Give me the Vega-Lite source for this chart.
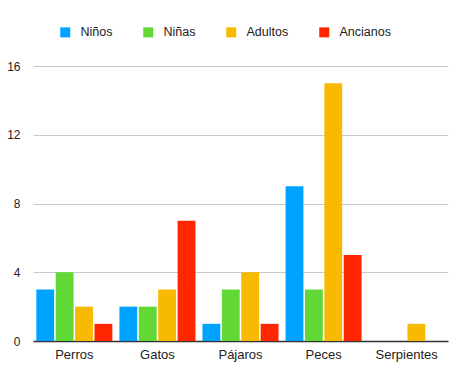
{
  "$schema": "https://vega.github.io/schema/vega-lite/v6.json",
  "width": 415,
  "height": 275,
  "autosize": {"type": "none"},
  "padding": {"left": 33, "top": 66, "right": 26, "bottom": 43},
  "background": "white",
  "config": {
    "font": "Liberation Sans",
    "view": {"stroke": null}
  },
  "data": {
    "values": [
      {"animal": "Perros", "grupo": "Niños", "valor": 3},
      {"animal": "Perros", "grupo": "Niñas", "valor": 4},
      {"animal": "Perros", "grupo": "Adultos", "valor": 2},
      {"animal": "Perros", "grupo": "Ancianos", "valor": 1},
      {"animal": "Gatos", "grupo": "Niños", "valor": 2},
      {"animal": "Gatos", "grupo": "Niñas", "valor": 2},
      {"animal": "Gatos", "grupo": "Adultos", "valor": 3},
      {"animal": "Gatos", "grupo": "Ancianos", "valor": 7},
      {"animal": "Pájaros", "grupo": "Niños", "valor": 1},
      {"animal": "Pájaros", "grupo": "Niñas", "valor": 3},
      {"animal": "Pájaros", "grupo": "Adultos", "valor": 4},
      {"animal": "Pájaros", "grupo": "Ancianos", "valor": 1},
      {"animal": "Peces", "grupo": "Niños", "valor": 9},
      {"animal": "Peces", "grupo": "Niñas", "valor": 3},
      {"animal": "Peces", "grupo": "Adultos", "valor": 15},
      {"animal": "Peces", "grupo": "Ancianos", "valor": 5},
      {"animal": "Serpientes", "grupo": "Niños", "valor": 0},
      {"animal": "Serpientes", "grupo": "Niñas", "valor": 0},
      {"animal": "Serpientes", "grupo": "Adultos", "valor": 1},
      {"animal": "Serpientes", "grupo": "Ancianos", "valor": 0}
    ]
  },
  "mark": {"type": "bar"},
  "encoding": {
    "x": {
      "field": "animal",
      "type": "nominal",
      "sort": ["Perros", "Gatos", "Pájaros", "Peces", "Serpientes"],
      "scale": {"paddingInner": 0.085, "paddingOuter": 0.04},
      "axis": {
        "title": null,
        "labelAngle": 0,
        "labelFontSize": 13,
        "labelColor": "#222",
        "labelPadding": 7,
        "ticks": false,
        "domainColor": "#333",
        "domainWidth": 1.5,
        "grid": false
      }
    },
    "xOffset": {
      "field": "grupo",
      "type": "nominal",
      "sort": ["Niños", "Niñas", "Adultos", "Ancianos"],
      "scale": {"paddingInner": 0.08}
    },
    "y": {
      "field": "valor",
      "type": "quantitative",
      "scale": {"domain": [0, 16], "nice": false},
      "axis": {
        "title": null,
        "values": [0, 4, 8, 12, 16],
        "labelFontSize": 12,
        "labelColor": "#222",
        "labelPadding": 13,
        "ticks": false,
        "domain": false,
        "gridColor": "#c8c8c8",
        "gridWidth": 1
      }
    },
    "color": {
      "field": "grupo",
      "type": "nominal",
      "sort": ["Niños", "Niñas", "Adultos", "Ancianos"],
      "scale": {
        "domain": ["Niños", "Niñas", "Adultos", "Ancianos"],
        "range": ["#00A2FF", "#61D836", "#F8BA00", "#FF2600"]
      },
      "legend": {
        "title": null,
        "orient": "none",
        "legendX": 26,
        "legendY": -40,
        "direction": "horizontal",
        "symbolType": "square",
        "symbolSize": 100,
        "symbolStrokeWidth": 0,
        "labelFontSize": 12.5,
        "labelColor": "#222",
        "labelOffset": 9,
        "columnPadding": 29
      }
    }
  }
}
